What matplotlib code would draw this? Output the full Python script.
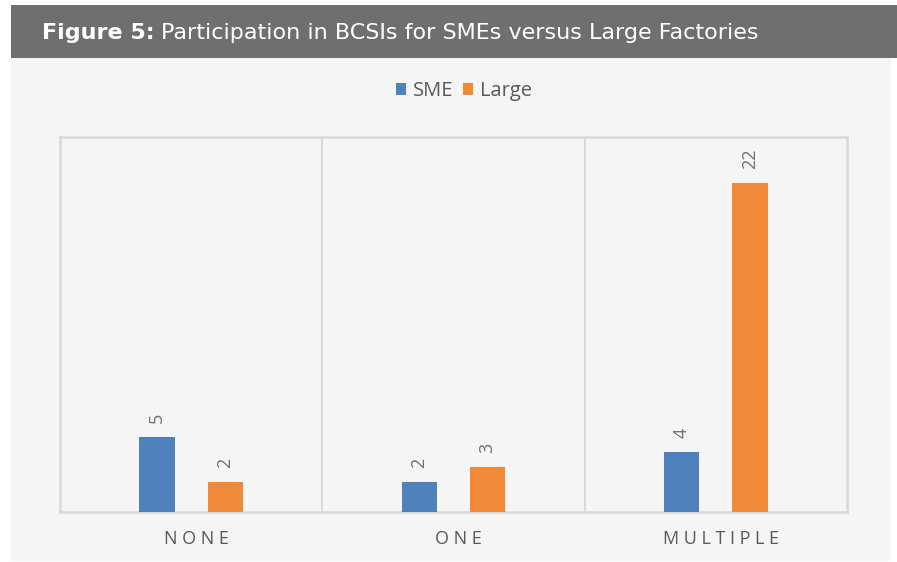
import matplotlib
matplotlib.use("Agg")
import matplotlib.pyplot as plt
import matplotlib.transforms as mtransforms
from matplotlib.patches import Rectangle
import numpy as np

categories = ["NONE", "ONE", "MULTIPLE"]
series_names = ["SME", "Large"]
sme_values = [5, 2, 4]
large_values = [2, 3, 22]

BLUE = "#4F81BD"
ORANGE = "#F28937"
GRAY_TXT = "#595959"
plt.rcParams['font.family'] = ['Open Sans', 'DejaVu Sans']

W, H = 897, 562
fig = plt.figure(figsize=(W / 100, H / 100), dpi=100)
fig.patch.set_facecolor("white")

# panel background and header band
fig.patches.append(Rectangle((11 / W, 1 - 561 / H), (891 - 11) / W, (561 - 58) / H,
                             transform=fig.transFigure, facecolor="#f5f5f5", edgecolor="none", zorder=-2))
fig.patches.append(Rectangle((11 / W, 1 - 58 / H), (897 - 11) / W, (58 - 5) / H,
                             transform=fig.transFigure, facecolor="#6f6f6f", edgecolor="none", zorder=-2))
t1 = fig.text(42 / W, 1 - 33 / H, "Figure 5:", color="white", fontsize=16, fontweight="bold",
              va="center", ha="left", family=["DejaVu Sans"])
fig.canvas.draw()
bb = t1.get_window_extent()
fig.text(bb.x1 / W + 6 / W, 1 - 33 / H, "Participation in BCSIs for SMEs versus Large Factories",
         color="white", fontsize=16, va="center", ha="left", family=["DejaVu Sans"])

ax = fig.add_axes([60 / W, 1 - 512 / H, (847 - 60) / W, (512 - 137) / H])
ax.set_facecolor("#f5f5f5")
x = np.arange(len(categories))
bw = 0.134
off = 0.13
b1 = ax.bar(x - off, sme_values, bw, color=BLUE, label=series_names[0], zorder=3)
b2 = ax.bar(x + off, large_values, bw, color=ORANGE, label=series_names[1], zorder=3)
for bars in (b1, b2):
    for r in bars:
        ax.annotate(f"{int(r.get_height())}", (r.get_x() + r.get_width() / 2, r.get_height()),
                    xytext=(0, 10), textcoords="offset points", rotation=90,
                    ha="center", va="bottom", color="#707070", fontsize=13)
ax.set_xlim(-0.5, len(categories) - 0.5)
ax.set_ylim(0, 25.1)
for b in [0.5, 1.5]:
    ax.axvline(b, color="#d9d9d9", lw=1.5, zorder=1)
for s in ax.spines.values():
    s.set_color("#d9d9d9")
    s.set_linewidth(1.8)
ax.set_xticks(x)
ax.set_xticklabels([" ".join(c) for c in categories], color=GRAY_TXT, fontsize=13)
ax.tick_params(axis="x", length=0, pad=13)
ax.set_yticks([])
shift = mtransforms.ScaledTranslation(5 / 100, 0, fig.dpi_scale_trans)
for lbl in ax.get_xticklabels():
    lbl.set_transform(lbl.get_transform() + shift)

leg = fig.legend(handles=[b1, b2], labels=series_names, loc="center", bbox_to_anchor=(464 / W, 1 - 91 / H),
                 ncol=2, frameon=False, fontsize=14.5, handlelength=0.5, handleheight=0.5,
                 handletextpad=0.35, columnspacing=0.5, labelcolor=GRAY_TXT)

fig.savefig("out.png", dpi=100, facecolor=fig.get_facecolor())
